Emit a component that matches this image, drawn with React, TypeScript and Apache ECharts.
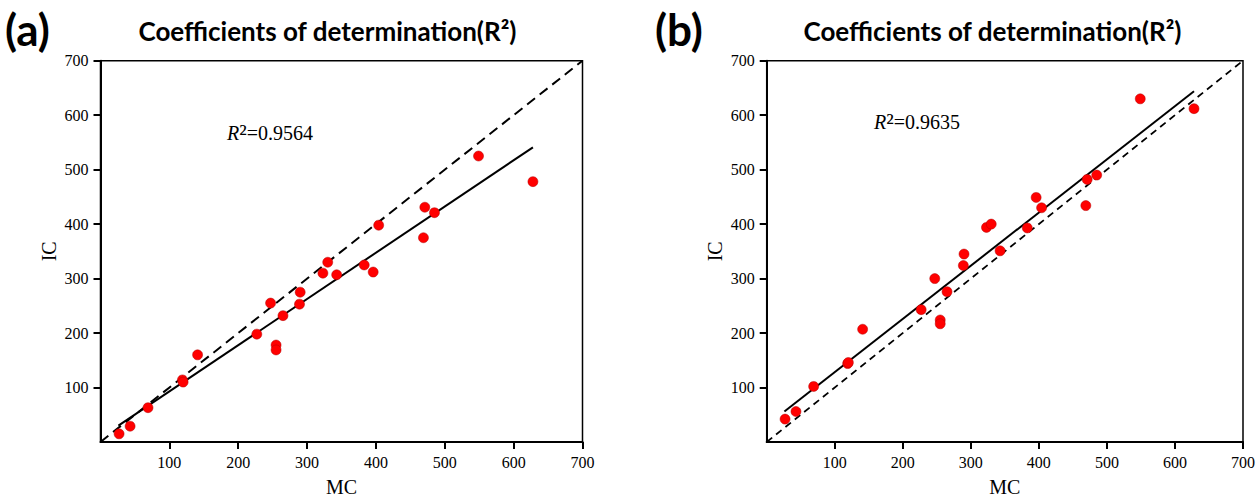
import React, { useEffect, useRef } from "react";
import * as echarts from "echarts";

const mcValues = [27, 43, 69, 119, 120, 141, 227, 247, 255, 255, 265, 289, 290, 323, 330, 343, 383, 396, 404, 469, 471, 485, 549, 628];
const icValuesA = [15, 29, 63, 114, 110, 160, 198, 255, 178, 169, 232, 253, 275, 310, 330, 307, 325, 312, 398, 375, 431, 421, 525, 478];
const icValuesB = [42, 56, 102, 144, 146, 207, 243, 300, 224, 217, 276, 324, 345, 394, 400, 351, 393, 449, 430, 434, 482, 490, 630, 612];
const fitLineA = [[26, 30], [628, 541]];
const fitLineB = [[26, 56], [628, 644]];
const identityLine = [[0, 0], [700, 700]];
const tickValues = [100, 200, 300, 400, 500, 600, 700];
const r2Labels = ["0.9564", "0.9635"];
const panelLabels = ["(a)", "(b)"];
const titleText = "Coefficients of determination(R²)";

const SERIF = "'Liberation Serif', 'Times New Roman', serif";
const SANS = "Lato, 'Open Sans', sans-serif";

function axisBase(gridIndex: number, name: string, isX: boolean) {
  return {
    type: "value",
    gridIndex,
    min: 0,
    max: 700,
    interval: 100,
    name,
    nameLocation: "middle",
    nameGap: isX ? 35 : 42,
    nameTextStyle: { fontFamily: SERIF, fontSize: 20, color: "#000" },
    axisLine: { show: true, onZero: false, lineStyle: { color: "#000", width: 2 } },
    axisTick: {
      show: true,
      inside: false,
      length: 7,
      customValues: tickValues,
      lineStyle: { color: "#000", width: 2 },
    },
    axisLabel: {
      show: true,
      customValues: tickValues,
      margin: 12,
      fontFamily: SERIF,
      fontSize: 16,
      color: "#000",
    },
    splitLine: { show: false },
  };
}

function r2Graphic(x: number, y: number, value: string) {
  return {
    type: "text",
    x,
    y,
    style: {
      text: `{i|R}{s|²}{n|=${value}}`,
      verticalAlign: "middle",
      rich: {
        i: { fontFamily: SERIF, fontSize: 20, fontStyle: "italic", color: "#000", verticalAlign: "bottom", height: 23 },
        s: { fontFamily: SERIF, fontSize: 25, color: "#000", verticalAlign: "bottom", height: 23 },
        n: { fontFamily: SERIF, fontSize: 20, color: "#000", verticalAlign: "bottom", height: 23 },
      },
    },
  };
}

export default function App() {
  const ref = useRef<HTMLDivElement>(null);
  useEffect(() => {
    if (!ref.current) return;
    const chart = echarts.init(ref.current, undefined, { renderer: "svg" });
    const grids = [
      { left: 100.5, top: 60.7, width: 482, height: 386 },
      { left: 766.7, top: 60.7, width: 480, height: 386.6 },
    ];
    const mk = (ic: number[]) => mcValues.map((m, i) => [m, ic[i]]);
    const option = {
      animation: false,
      backgroundColor: "#fff",
      grid: grids.map((g) => ({ ...g, show: true, borderColor: "#000", borderWidth: 1.5, backgroundColor: "transparent" })),
      xAxis: [axisBase(0, "MC", true), axisBase(1, "MC", true)],
      yAxis: [axisBase(0, "IC", false), axisBase(1, "IC", false)],
      series: [
        {
          type: "line", xAxisIndex: 0, yAxisIndex: 0, data: identityLine, symbol: "none",
          lineStyle: { color: "#000", width: 2, type: [10, 6] }, z: 2,
        },
        {
          type: "line", xAxisIndex: 0, yAxisIndex: 0, data: fitLineA, symbol: "none",
          lineStyle: { color: "#000", width: 2 }, z: 2,
        },
        {
          type: "scatter", xAxisIndex: 0, yAxisIndex: 0, data: mk(icValuesA), symbolSize: 10,
          itemStyle: { color: "#ff0000", borderColor: "#b00000", borderWidth: 0.5, opacity: 1 }, z: 3,
        },
        {
          type: "line", xAxisIndex: 1, yAxisIndex: 1, data: identityLine, symbol: "none",
          lineStyle: { color: "#000", width: 1.8, type: [7, 5] }, z: 2,
        },
        {
          type: "line", xAxisIndex: 1, yAxisIndex: 1, data: fitLineB, symbol: "none",
          lineStyle: { color: "#000", width: 2 }, z: 2,
        },
        {
          type: "scatter", xAxisIndex: 1, yAxisIndex: 1, data: mk(icValuesB), symbolSize: 10,
          itemStyle: { color: "#ff0000", borderColor: "#b00000", borderWidth: 0.5, opacity: 1 }, z: 3,
        },
      ],
      graphic: [
        {
          type: "text", left: 5, top: 7,
          style: { text: panelLabels[0], font: `bold 44px ${SANS}`, fill: "#000" },
        },
        {
          type: "text", left: 655, top: 7,
          style: { text: panelLabels[1], font: `bold 44px ${SANS}`, fill: "#000" },
        },
        {
          type: "text", x: 327.5, y: 31,
          style: { text: titleText, font: `bold 26px ${SANS}`, fill: "#000", align: "center", verticalAlign: "middle" },
        },
        {
          type: "text", x: 992.5, y: 31,
          style: { text: titleText, font: `bold 26px ${SANS}`, fill: "#000", align: "center", verticalAlign: "middle" },
        },
        r2Graphic(227, 133, r2Labels[0]),
        r2Graphic(874, 122, r2Labels[1]),
      ],
    };
    chart.setOption(option as any);
    return () => chart.dispose();
  }, []);
  return (
    <div
      ref={ref}
      style={{ position: "fixed", left: 0, top: 0, width: 1258, height: 502, background: "#fff" }}
    />
  );
}
